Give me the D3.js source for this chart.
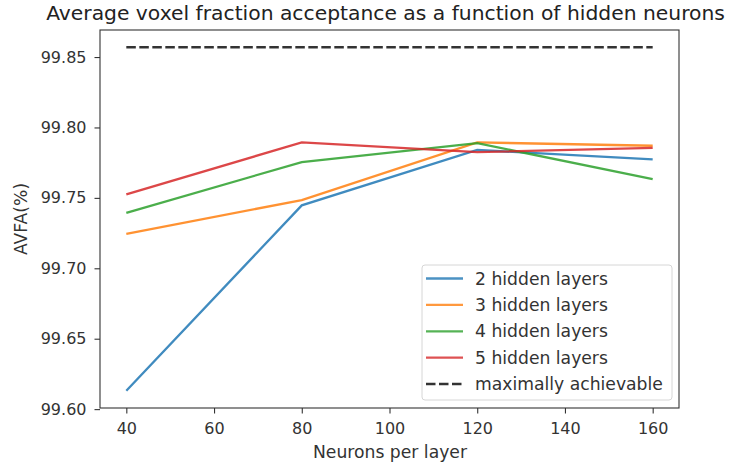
<!DOCTYPE html>
<html><head><meta charset="utf-8">
<script src="https://cdn.jsdelivr.net/npm/d3@7"></script>
<style>body{margin:0;background:#fff;} svg{display:block;font-family:"DejaVu Sans",sans-serif;}</style>
</head><body><svg id="c" width="742" height="470"></svg>
<script>
const neurons = [40, 80, 120, 160];
const seriesNames = ["2 hidden layers", "3 hidden layers", "4 hidden layers", "5 hidden layers"];
const layers2 = [99.613, 99.7447, 99.7840, 99.7773];
const layers3 = [99.7245, 99.7484, 99.7894, 99.7870];
const layers4 = [99.7394, 99.7754, 99.7888, 99.7633];
const layers5 = [99.7525, 99.7894, 99.7825, 99.7855];
const maxAchievable = 99.857;
const maxLabel = "maximally achievable";
const xTicks = [40, 60, 80, 100, 120, 140, 160];
const yTicks = [99.60, 99.65, 99.70, 99.75, 99.80, 99.85];
const colors = ["#1f77b4", "#ff7f0e", "#2ca02c", "#d62728"];

const svg = d3.select("#c");
const L = 100, R = 679, T = 30, B = 408;
const all = [...layers2, ...layers3, ...layers4, ...layers5, maxAchievable];
const ymin = d3.min(all), ymax = d3.max(all), pad = (ymax - ymin) * 0.05;
const x = d3.scaleLinear().domain([34, 166]).range([L, R]);
const y = d3.scaleLinear().domain([ymin - pad, ymax + pad]).range([B, T]);

const fs = 16, lfs = 17.2;
// axes
const xa = svg.append("g").attr("transform", `translate(0,${B})`)
  .call(d3.axisBottom(x).tickValues(xTicks).tickSize(5.5).tickPadding(9).tickFormat(d3.format("d")));
const ya = svg.append("g").attr("transform", `translate(${L},0)`)
  .call(d3.axisLeft(y).tickValues(yTicks).tickSize(5.5).tickPadding(8).tickFormat(d3.format(".2f")));
[xa, ya].forEach(g => {
  g.select(".domain").remove();
  g.selectAll("line").attr("stroke", "#333").attr("stroke-width", 1.1);
  g.selectAll("text").attr("fill", "#333").style("font-size", fs + "px").style("font-family", "DejaVu Sans");
});
svg.append("rect").attr("x", L).attr("y", T).attr("width", R - L).attr("height", B - T)
  .attr("fill", "none").attr("stroke", "#333").attr("stroke-width", 1.1);

const data = [layers2, layers3, layers4, layers5];
const line = d3.line().x((d, i) => x(neurons[i])).y(d => y(d));
data.forEach((s, k) => {
  svg.append("path").attr("d", line(s)).attr("fill", "none")
    .attr("stroke", colors[k]).attr("stroke-width", 2.3).attr("stroke-opacity", 0.85);
});
svg.append("line").attr("x1", x(neurons[0])).attr("x2", x(neurons[neurons.length - 1]))
  .attr("y1", y(maxAchievable)).attr("y2", y(maxAchievable))
  .attr("stroke", "#000").attr("stroke-opacity", 0.8).attr("stroke-width", 2.5).attr("stroke-dasharray", "9.5,3.5");

// labels
svg.append("text").attr("x", (L + R) / 2 - 4).attr("y", 20).attr("text-anchor", "middle")
  .style("font-size", "20.3px").attr("fill", "#222").text("Average voxel fraction acceptance as a function of hidden neurons");
svg.append("text").attr("x", (L + R) / 2 + 0.5).attr("y", 458).attr("text-anchor", "middle")
  .style("font-size", lfs + "px").attr("fill", "#333").text("Neurons per layer");
svg.append("text").attr("transform", `translate(27,${(T + B) / 2}) rotate(-90)`).attr("text-anchor", "middle")
  .style("font-size", lfs + "px").attr("fill", "#333").text("AVFA(%)");

// legend
const lg = svg.append("g");
lg.append("rect").attr("x", 422).attr("y", 265).attr("width", 250).attr("height", 135).attr("rx", 3)
  .attr("fill", "#fff").attr("fill-opacity", 0.8).attr("stroke", "#d6d6d6");
const items = seriesNames.map((n, i) => ({ n, c: colors[i], dash: null }));
items.push({ n: maxLabel, c: "#000", dash: "9.5,3.5" });
items.forEach((it, i) => {
  const yy = 278.5 + i * 26.4;
  lg.append("line").attr("x1", 426).attr("x2", 463).attr("y1", yy).attr("y2", yy)
    .attr("stroke", it.c).attr("stroke-width", it.dash ? 2.5 : 2.3).attr("stroke-opacity", 0.8)
    .attr("stroke-dasharray", it.dash);
  lg.append("text").attr("x", 475).attr("y", yy).attr("dy", "0.35em").style("font-size", lfs + "px")
    .attr("fill", "#333").text(it.n);
});
</script></body></html>
